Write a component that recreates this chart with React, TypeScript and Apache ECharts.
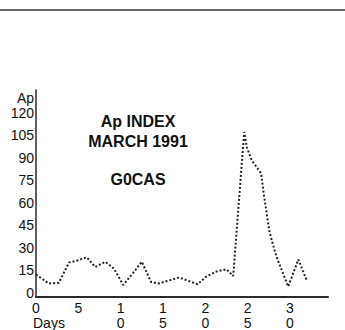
import React, { useEffect, useRef } from "react";
import * as echarts from "echarts";

const days = [0, 1.5, 2.7, 3.9, 5, 6, 7, 8.2, 9.2, 10.3, 11.4, 12.5, 13.6, 14.5, 15.7, 16.9, 17.9, 19.1, 20.1, 21.3, 22.5, 23.3, 24.6, 24.9, 25.5, 26.6, 26.9, 27.6, 28.4, 29.8, 31, 32];
const apValues = [12, 6, 6.5, 20, 21.5, 23.5, 17, 20.5, 16, 5, 12.5, 20.5, 7, 6, 8, 10, 8, 5.5, 10.5, 14, 15.5, 11, 107, 97, 88, 79.5, 66, 40, 24, 4, 22, 8];
const yTicks = [0, 15, 30, 45, 60, 75, 90, 105, 120];
const xTicks = [0, 5, 10, 15, 20, 25, 30];
const titleLines = ["Ap INDEX", "MARCH 1991", "G0CAS"];

const FONT = "'Liberation Sans', Arial, Helvetica, sans-serif";

export default function App() {
  const ref = useRef<HTMLDivElement>(null);
  useEffect(() => {
    if (!ref.current) return;
    const chart = echarts.init(ref.current, null, { renderer: "svg" });
    const data = days.map((d, i) => [d, apValues[i]]);
    chart.setOption({
      animation: false,
      backgroundColor: "#ffffff",
      grid: { left: 36, right: 17, top: 90, bottom: 33 },
      xAxis: {
        type: "value",
        min: 0,
        max: 34.5,
        axisLine: { show: true, onZero: false, lineStyle: { color: "#2a2a2a", width: 2 } },
        axisTick: { show: false },
        splitLine: { show: false },
        axisLabel: {
          customValues: xTicks,
          formatter: (v: number) => String(v).split("").join("\n"),
          fontFamily: FONT,
          fontSize: 14,
          lineHeight: 15,
          color: "#111",
          margin: 3,
        },
      },
      yAxis: {
        type: "value",
        min: -3,
        max: 135,
        axisLine: { show: true, lineStyle: { color: "#2a2a2a", width: 1.5 } },
        axisTick: { show: false },
        splitLine: { show: false },
        axisLabel: {
          customValues: [...yTicks, 130],
          formatter: (v: number) => (v === 130 ? "Ap" : String(v)),
          fontFamily: FONT,
          fontSize: 14,
          color: "#111",
          margin: 2,
        },
      },
      series: [
        {
          type: "line",
          data,
          symbol: "none",
          smooth: false,
          lineStyle: { color: "#222", width: 2, type: "dotted" },
        },
      ],
      graphic: [
        {
          type: "line",
          shape: { x1: 0, y1: 10, x2: 345, y2: 10 },
          style: { stroke: "#333", lineWidth: 1.5 },
        },
        ...titleLines.map((t, i) => ({
          type: "text",
          x: 138,
          y: [121, 141, 179.5][i],
          style: {
            text: t,
            fontFamily: FONT,
            fontSize: 16,
            fontWeight: "bold",
            fill: "#111",
            textAlign: "center",
            textVerticalAlign: "middle",
          },
        })),
        {
          type: "text",
          x: 33,
          y: 323,
          style: {
            text: "Days",
            fontFamily: FONT,
            fontSize: 14,
            fill: "#111",
            textAlign: "left",
            textVerticalAlign: "middle",
          },
        },
      ],
    });
    return () => chart.dispose();
  }, []);
  return <div ref={ref} style={{ width: 345, height: 330, position: "absolute", left: 0, top: 0 }} />;
}
